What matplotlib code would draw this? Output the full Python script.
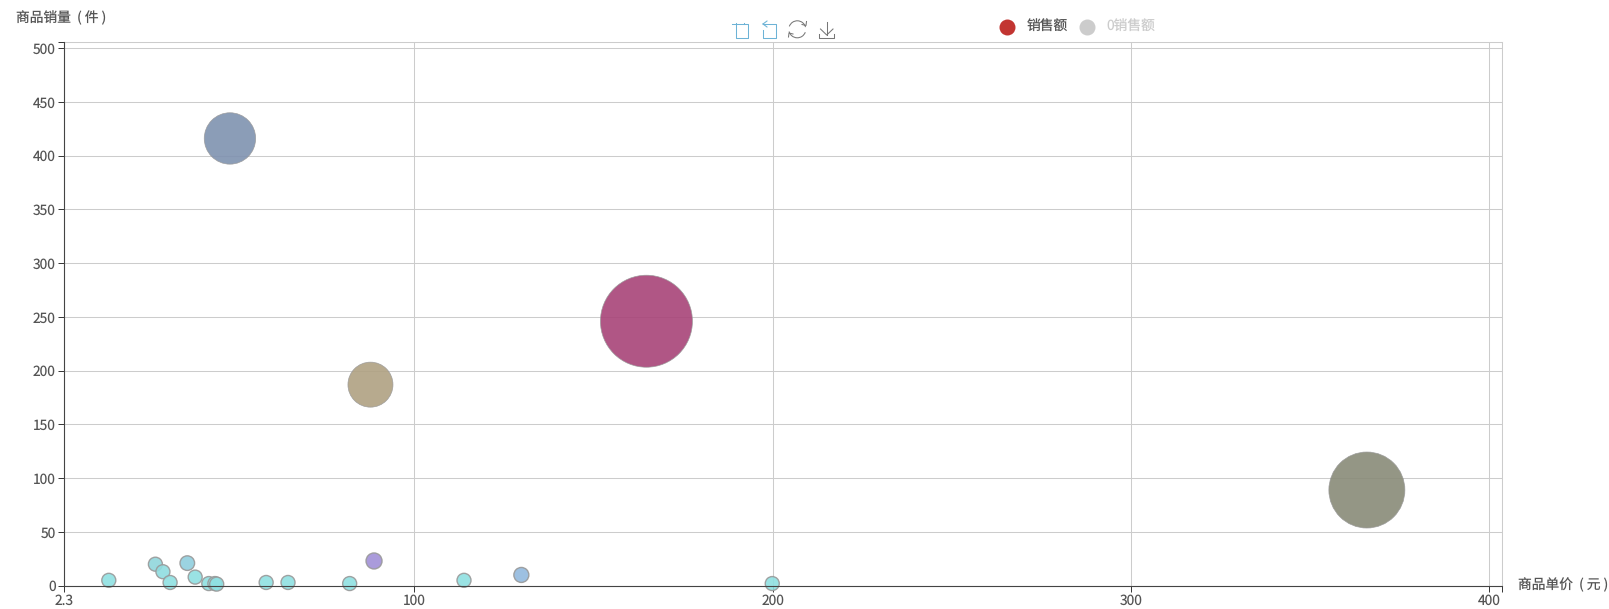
import matplotlib
matplotlib.use('Agg')
import matplotlib.pyplot as plt
from matplotlib.patches import Arc

plt.rcParams['font.family'] = ['Noto Sans CJK SC', 'DejaVu Sans']
plt.rcParams['text.hinting'] = 'no_hinting'
plt.rcParams['text.hinting_factor'] = 1

# Values
price = [48.6, 164.8, 87.8, 365.8, 14.8, 27.8, 29.9, 31.9, 36.7, 38.9, 42.7, 44.4,
         44.9, 58.7, 64.8, 82.0, 88.8, 113.9, 129.9, 199.9]
quantity = [416, 246, 187, 89, 5, 20, 13, 3, 21, 8, 2, 2,
            1.5, 3, 3, 2, 23, 5, 10, 2]
bubble_radius = [25.7, 46, 22.5, 38, 7, 7, 7, 7, 7.3, 7, 7, 7,
                 7, 7, 7, 7, 8, 7, 7.5, 7]
colors = ['#7f92b0', '#a84478', '#b0a182', '#898b78', '#8fe0e2', '#90d6dc', '#8fdde0', '#8fe0e2',
          '#90cfde', '#8fdfe1', '#8fe0e2', '#8fe0e2', '#8fe0e2', '#8fe0e2', '#8fe0e2', '#8fe0e2',
          '#a190d8', '#8fe0e2', '#92bade', '#8fe0e2']

xticks = [2.3, 100, 200, 300, 400, 403.5]
xticklabels = ['2.3', '100', '200', '300', '400', '']
yticks = [0, 50, 100, 150, 200, 250, 300, 350, 400, 450, 500, 506]
yticklabels = ['0', '50', '100', '150', '200', '250', '300', '350', '400', '450', '500', '']

W, H = 1609, 609
fig = plt.figure(figsize=(W / 100, H / 100), dpi=100)
ax = fig.add_axes([64 / W, 1 - 585.7 / H, (1502 - 64) / W, (585.7 - 41.7) / H])

# bubbles, radius in pixels -> area in points^2
sizes = [(2 * r * 0.72) ** 2 for r in bubble_radius]
edge_widths = [0.5 if r > 20 else 1.0 for r in bubble_radius]
ax.scatter(price, quantity, s=sizes, c=colors, alpha=0.9, edgecolors='#999999',
           linewidths=edge_widths, zorder=3, clip_on=False)

ax.set_xlim(2.3, 403.5)
ax.set_ylim(0, 506)
ax.set_xticks(xticks)
ax.set_xticklabels(xticklabels)
ax.set_yticks(yticks)
ax.set_yticklabels(yticklabels)
ax.grid(True, color='#cccccc', linewidth=0.75)
ax.set_axisbelow(True)
ax.tick_params(axis='both', length=4, width=0.7, color='#333333', labelsize=9.9, labelcolor='#555555')
ax.tick_params(axis='x', pad=1.5)
ax.tick_params(axis='y', pad=2)

for side in ['top', 'right']:
    ax.spines[side].set_color('#cccccc')
    ax.spines[side].set_linewidth(0.75)
for side in ['left', 'bottom']:
    ax.spines[side].set_color('#444444')
    ax.spines[side].set_linewidth(0.8)
    ax.spines[side].set_zorder(4)

# overlay in pixel coordinates for names, legend and toolbox
ov = fig.add_axes([0, 0, 1, 1], facecolor='none')
ov.set_xlim(0, W)
ov.set_ylim(H, 0)
ov.axis('off')

ov.text(16, 18, '商品销量  ( 件 )', fontsize=9.9, color='#555555', ha='left', va='center')
ov.text(1518, 585, '商品单价  ( 元 )', fontsize=9.9, color='#555555', ha='left', va='center')

# legend
ov.scatter([1007], [26.5], s=(16 * 0.72) ** 2, c='#c23531', linewidths=0)
ov.text(1026.5, 26.5, '销售额', fontsize=9.9, color='#555555', ha='left', va='center')
ov.scatter([1087], [26.5], s=(16 * 0.72) ** 2, c='#cccccc', linewidths=0)
ov.text(1106.5, 26.5, '0销售额', fontsize=9.9, color='#cccccc', ha='left', va='center')

# toolbox icons
blue = '#6db3d6'
grey = '#777777'
lw = 0.75
ov.plot([732, 748.5, 748.5, 736, 736], [24, 24, 37.5, 37.5, 22.5], color=blue, lw=lw)
ov.plot([744, 744], [22.5, 24], color=blue, lw=lw)
ov.plot([767, 763], [21, 24], color=blue, lw=lw)
ov.plot([767, 763], [27, 24], color=blue, lw=lw)
ov.plot([763, 776, 776, 763, 763], [24, 24, 37.5, 37.5, 30], color=blue, lw=lw)
ov.add_patch(Arc((797.3, 29.3), 17, 17, theta1=20, theta2=165, color=grey, lw=lw))
ov.add_patch(Arc((797.3, 29.3), 17, 17, theta1=200, theta2=345, color=grey, lw=lw))
ov.plot([802, 806, 806.5], [24.5, 25.5, 21.5], color=grey, lw=lw)
ov.plot([793, 789, 788.5], [34, 33, 37], color=grey, lw=lw)
ov.plot([826.7, 826.7], [21.7, 35], color=grey, lw=lw)
ov.plot([820.5, 826.7, 833], [29, 35, 29], color=grey, lw=lw)
ov.plot([819.3, 819.3, 834, 834], [34, 37.7, 37.7, 34], color=grey, lw=lw)

fig.savefig('out.png', dpi=100)
